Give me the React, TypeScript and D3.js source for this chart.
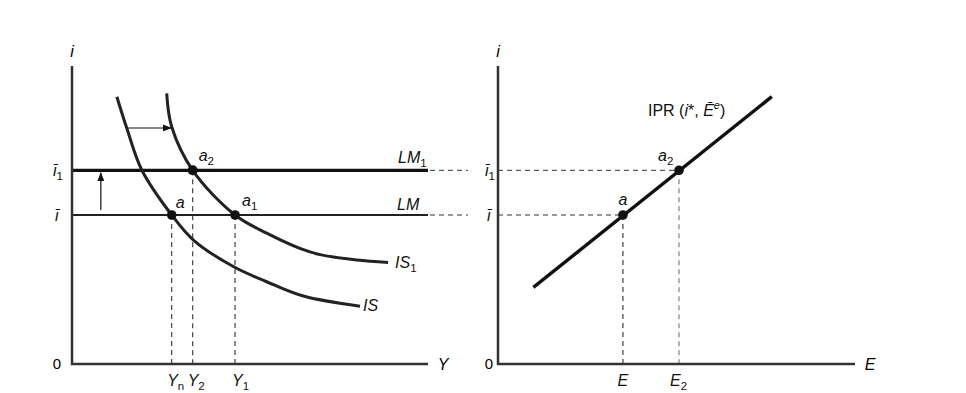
import React from 'react';
import * as d3 from 'd3';

const W = 966, H = 393;
// interest rate levels
const iBar = 50, iBar1 = 65;
// output levels
const Yn = 28, Y2 = 33.9, Y1 = 45.8;
// exchange rate levels
const Eval = 35, E2val = 50.7;
// IS curve
const isX = [12.6, 15.4, 19.6, 28, 34.1, 45.3, 54.7, 65.0, 80.9];
const isY = [89.7, 79.1, 65.1, 50, 41.6, 32.7, 27.6, 22.8, 19.4];
// IS1 curve
const is1X = [26.6, 28.0, 33.9, 45.8, 54.7, 64.0, 69.7, 80.0, 88.8];
const is1Y = [90.8, 79.6, 65, 50, 43.9, 38.8, 36.7, 34.9, 34.1];
// IPR line
const iprE = [9.9, 76.7];
const iprI = [25.7, 89.7];
// arrows
const shiftArrowX = [15.7, 27.9];
const shiftArrowI = 79.2;
const upArrowY = 8.1;
const upArrowI = [51.7, 64.2];

const FONT = '"Liberation Sans", Arial, sans-serif';

export default function App() {
  const xL = d3.scaleLinear().domain([0, 100]).range([72, 428]);
  const xR = d3.scaleLinear().domain([0, 100]).range([498, 855]);
  const yS = d3.scaleLinear().domain([0, 100]).range([364, 66]);

  const lineL = d3.line<[number, number]>().x(d => xL(d[0])).y(d => yS(d[1])).curve(d3.curveCatmullRom.alpha(0.5));
  const isPath = lineL(isX.map((x, k) => [x, isY[k]] as [number, number]))!;
  const is1Path = lineL(is1X.map((x, k) => [x, is1Y[k]] as [number, number]))!;
  const iprPath = d3.line<[number, number]>().x(d => xR(d[0])).y(d => yS(d[1]))(
    iprE.map((e, k) => [e, iprI[k]] as [number, number]))!;

  const axisCol = '#333';
  const dash = '5,4';
  const ital = { fontStyle: 'italic' as const };

  const Sub = ({ x, y, main, sub, anchor = 'start', italicMain = true, italicSub = false, size = 16 }: any) => (
    <text x={x} y={y} textAnchor={anchor} fontSize={size} fontFamily={FONT} fill="#111">
      <tspan fontStyle={italicMain ? 'italic' : 'normal'}>{main}</tspan>
      {sub !== undefined && (
        <tspan fontStyle={italicSub ? 'italic' : 'normal'} fontSize={size * 0.72} dy={4}>{sub}</tspan>
      )}
    </text>
  );

  return (
    <svg width={W} height={H} style={{ position: 'absolute', left: 0, top: 0, background: '#fff' }}
      xmlns="http://www.w3.org/2000/svg">
      <defs>
        <marker id="ah" markerWidth="9" markerHeight="7" refX="8.5" refY="3.5" orient="auto" markerUnits="userSpaceOnUse">
          <path d="M0,0 L9,3.5 L0,7 Z" fill="#111" />
        </marker>
      </defs>
      <rect width={W} height={H} fill="#fff" />

      {/* ---------- LEFT PANEL ---------- */}
      <line x1={xL(Yn)} x2={xL(Yn)} y1={yS(iBar)} y2={yS(0)} stroke={axisCol} strokeWidth={1.1} strokeDasharray={dash} />
      <line x1={xL(Y2)} x2={xL(Y2)} y1={yS(iBar1)} y2={yS(0)} stroke={axisCol} strokeWidth={1.1} strokeDasharray={dash} />
      <line x1={xL(Y1)} x2={xL(Y1)} y1={yS(iBar)} y2={yS(0)} stroke={axisCol} strokeWidth={1.1} strokeDasharray={dash} />
      <line x1={xL(100) + 2} x2={xR(0) - 30} y1={yS(iBar1)} y2={yS(iBar1)} stroke={axisCol} strokeWidth={1} strokeDasharray={dash} />
      <line x1={xL(100) + 2} x2={xR(0) - 30} y1={yS(iBar)} y2={yS(iBar)} stroke={axisCol} strokeWidth={1} strokeDasharray={dash} />

      <line x1={xL(0)} x2={xL(100)} y1={yS(iBar)} y2={yS(iBar)} stroke="#222" strokeWidth={1.8} />
      <line x1={xL(0)} x2={xL(100)} y1={yS(iBar1)} y2={yS(iBar1)} stroke="#111" strokeWidth={3.2} />

      <path d={isPath} fill="none" stroke="#222" strokeWidth={3} />
      <path d={is1Path} fill="none" stroke="#222" strokeWidth={3} />

      <line x1={xL(shiftArrowX[0])} x2={xL(shiftArrowX[1])} y1={yS(shiftArrowI)} y2={yS(shiftArrowI)}
        stroke="#111" strokeWidth={1.2} markerEnd="url(#ah)" />
      <line x1={xL(upArrowY)} x2={xL(upArrowY)} y1={yS(upArrowI[0])} y2={yS(upArrowI[1])}
        stroke="#111" strokeWidth={1.2} markerEnd="url(#ah)" />

      <path d={`M${xL(0)},${yS(100)} L${xL(0)},${yS(0)} L${xL(100)},${yS(0)}`} fill="none" stroke={axisCol} strokeWidth={2.5} />

      <circle cx={xL(Yn)} cy={yS(iBar)} r={4.8} fill="#111" />
      <circle cx={xL(Y2)} cy={yS(iBar1)} r={5} fill="#111" />
      <circle cx={xL(Y1)} cy={yS(iBar)} r={4.8} fill="#111" />

      <text x={xL(0)} y={57} textAnchor="middle" fontSize={16} fontFamily={FONT} style={ital}>i</text>
      <text x={57} y={369} textAnchor="middle" fontSize={15} fontFamily={FONT}>0</text>
      <text x={443} y={370} textAnchor="middle" fontSize={16} fontFamily={FONT} style={ital}>Y</text>
      <Sub x={xL(0) - 19} y={176} main="ī" sub="1" />
      <Sub x={xL(0) - 17} y={221} main="ī" />
      <Sub x={xL(Yn) - 4.5} y={386} main="Y" sub="n" />
      <Sub x={xL(Y2) - 5} y={386} main="Y" sub="2" />
      <Sub x={xL(Y1) - 3} y={386} main="Y" sub="1" />
      <Sub x={xL(Yn) + 4} y={208} main="a" />
      <Sub x={xL(Y2) + 6} y={161} main="a" sub="2" />
      <Sub x={xL(Y1) + 7} y={206} main="a" sub="1" />
      <Sub x={398} y={163} main="LM" sub="1" />
      <Sub x={397} y={210} main="LM" />
      <Sub x={395} y={268} main="IS" sub="1" />
      <Sub x={363} y={311} main="IS" />

      {/* ---------- RIGHT PANEL ---------- */}
      <line x1={xR(0)} x2={xR(E2val)} y1={yS(iBar1)} y2={yS(iBar1)} stroke={axisCol} strokeWidth={1} strokeDasharray={dash} />
      <line x1={xR(0)} x2={xR(Eval)} y1={yS(iBar)} y2={yS(iBar)} stroke={axisCol} strokeWidth={1} strokeDasharray={dash} />
      <line x1={xR(Eval)} x2={xR(Eval)} y1={yS(iBar)} y2={yS(0)} stroke={axisCol} strokeWidth={1.1} strokeDasharray={dash} />
      <line x1={xR(E2val)} x2={xR(E2val)} y1={yS(iBar1)} y2={yS(0)} stroke="#777" strokeWidth={1.1} strokeDasharray={dash} />

      <path d={iprPath} fill="none" stroke="#111" strokeWidth={3.4} />

      <path d={`M${xR(0)},${yS(100)} L${xR(0)},${yS(0)} L${xR(100)},${yS(0)}`} fill="none" stroke={axisCol} strokeWidth={2.5} />

      <circle cx={xR(Eval)} cy={yS(iBar)} r={4.8} fill="#111" />
      <circle cx={xR(E2val)} cy={yS(iBar1)} r={4.8} fill="#111" />

      <text x={xR(0)} y={57} textAnchor="middle" fontSize={16} fontFamily={FONT} style={ital}>i</text>
      <text x={489} y={369} textAnchor="middle" fontSize={15} fontFamily={FONT}>0</text>
      <text x={870} y={370} textAnchor="middle" fontSize={16} fontFamily={FONT} style={ital}>E</text>
      <Sub x={xR(0) - 13} y={176} main="ī" sub="1" />
      <Sub x={xR(0) - 11} y={221} main="ī" />
      <Sub x={xR(Eval)} y={386} main="E" anchor="middle" />
      <Sub x={xR(E2val) - 9} y={386} main="E" sub="2" />
      <Sub x={xR(Eval)} y={205} main="a" anchor="middle" />
      <Sub x={xR(E2val) - 21} y={161} main="a" sub="2" />
      <text x={648} y={116} fontSize={16} fontFamily={FONT} fill="#111">
        <tspan>IPR (</tspan>
        <tspan fontStyle="italic">i</tspan>
        <tspan>*, </tspan>
        <tspan fontStyle="italic">Ē</tspan>
        <tspan fontStyle="italic" fontSize={11} dy={-7}>e</tspan>
        <tspan dy={7}>)</tspan>
      </text>
    </svg>
  );
}
